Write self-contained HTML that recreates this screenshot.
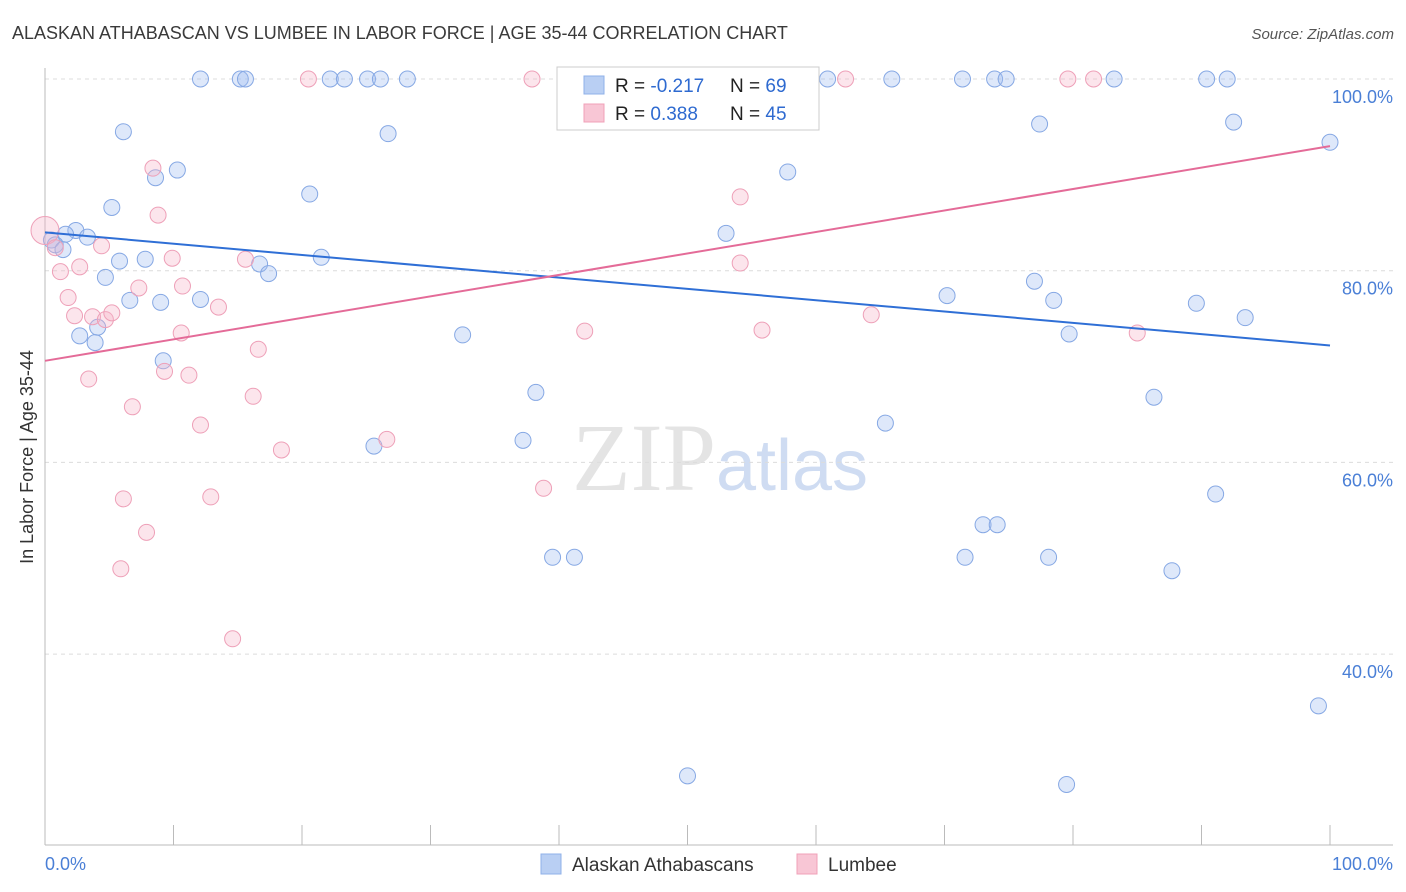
<!DOCTYPE html>
<html><head><meta charset="utf-8">
<style>
body{margin:0;background:#fff;font-family:"Liberation Sans",sans-serif;}
svg{display:block}
</style></head>
<body>
<svg id="chart" width="1406" height="892" xmlns="http://www.w3.org/2000/svg">
<text x="12" y="39" font-size="18" fill="#3a3a3a">ALASKAN ATHABASCAN VS LUMBEE IN LABOR FORCE | AGE 35-44 CORRELATION CHART</text>
<text x="1394" y="39" font-size="15" fill="#555" font-style="italic" text-anchor="end">Source: ZipAtlas.com</text>
<text x="720" y="490" font-size="96" text-anchor="middle" font-family="Liberation Serif" fill="#e4e4e4">ZIP<tspan fill="#cfdcf2" font-family="Liberation Sans" font-size="72">atlas</tspan></text>
<g id="grid"></g>
<g id="axes"></g>
<g id="marks"></g>
<g id="legend">
 <rect x="557" y="67" width="262" height="63" fill="#fff" stroke="#ccc"/>
 <rect x="584" y="76" width="20" height="18" fill="#b9cff3" stroke="#8fb0e8"/>
 <rect x="584" y="104" width="20" height="18" fill="#f8c6d5" stroke="#f0a0b8"/>
 <text x="615" y="92" font-size="19" fill="#222">R = <tspan fill="#2e6ad0">-0.217</tspan></text>
 <text x="730" y="92" font-size="19" fill="#222">N = <tspan fill="#2e6ad0">69</tspan></text>
 <text x="615" y="120" font-size="19" fill="#222">R = <tspan fill="#2e6ad0"> 0.388</tspan></text>
 <text x="730" y="120" font-size="19" fill="#222">N = <tspan fill="#2e6ad0">45</tspan></text>
</g>
<g>
 <rect x="541" y="854" width="20" height="20" fill="#b9cff3" stroke="#8fb0e8"/>
 <text x="572" y="871" font-size="19" fill="#333">Alaskan Athabascans</text>
 <rect x="797" y="854" width="20" height="20" fill="#f8c6d5" stroke="#f0a0b8"/>
 <text x="828" y="871" font-size="19" fill="#333">Lumbee</text>
</g>
<text transform="translate(33,457) rotate(-90)" font-size="18" fill="#333" text-anchor="middle">In Labor Force | Age 35-44</text>
<text x="45" y="870" font-size="18" fill="#4a7fd6">0.0%</text>
<text x="1393" y="870" font-size="18" fill="#4a7fd6" text-anchor="end">100.0%</text>
</svg>
<script>
const blueX=[12.1,15.2,15.6,22.2,23.3,25.1,26.1,28.2,48.6,60.9,65.9,71.4,73.9,74.8,83.2,90.4,92.0,6.1,26.7,77.4,92.5,100,8.6,10.3,20.6,57.8,5.2,2.4,1.6,3.3,0.5,0.8,1.4,53.0,7.8,5.8,21.5,16.7,17.4,4.7,6.6,9.0,12.1,70.2,77.0,78.5,89.6,93.4,4.1,2.7,3.9,32.5,79.7,9.2,38.2,86.3,65.4,37.2,25.6,91.1,73.0,74.1,39.5,41.2,71.6,78.1,87.7,99.1,50.0,79.5];
const blueY=[100,100,100,100,100,100,100,100,100,100,100,100,100,100,100,100,100,94.5,94.3,95.3,95.5,93.4,89.7,90.5,88.0,90.3,86.6,84.2,83.8,83.5,83.2,82.7,82.2,83.9,81.2,81.0,81.4,80.7,79.7,79.3,76.9,76.7,77.0,77.4,78.9,76.9,76.6,75.1,74.1,73.2,72.5,73.3,73.4,70.6,67.3,66.8,64.1,62.3,61.7,56.7,53.5,53.5,50.1,50.1,50.1,50.1,48.7,34.6,27.3,26.4];
const pinkX=[0,0.8,1.2,2.7,4.4,1.8,2.3,3.7,4.7,5.2,7.3,8.4,8.8,9.9,10.7,10.6,13.5,15.6,16.6,3.4,6.8,9.3,11.2,12.1,16.2,18.4,6.1,12.9,7.9,5.9,14.6,20.5,37.9,62.3,79.6,81.6,54.1,54.1,42.0,55.8,64.3,85.0,26.6,38.8];
const pinkY=[84.2,82.4,79.9,80.4,82.6,77.2,75.3,75.2,74.9,75.6,78.2,90.7,85.8,81.3,78.4,73.5,76.2,81.2,71.8,68.7,65.8,69.5,69.1,63.9,66.9,61.3,56.2,56.4,52.7,48.9,41.6,100,100,100,100,100,87.7,80.8,73.7,73.8,75.4,73.5,62.4,57.3];
const blueTrend=[84.0,72.2];
const pinkTrend=[70.6,93.0];
const yTicks=[100,80,60,40];
const yTickLabels=["100.0%","80.0%","60.0%","40.0%"];
const xTicks=[0,10,20,30,40,50,60,70,80,90,100];

const NS="http://www.w3.org/2000/svg";
const X=v=>45+v*12.85;
const Y=v=>79+(100-v)*9.585;
function mk(tag,attrs,parent){const e=document.createElementNS(NS,tag);for(const k in attrs)e.setAttribute(k,attrs[k]);parent.appendChild(e);return e;}
const grid=document.getElementById('grid'),axes=document.getElementById('axes'),marks=document.getElementById('marks');
yTicks.forEach((t,i)=>{
 const l=mk('line',{x1:45,x2:1393,y1:Y(t),y2:Y(t),stroke:'#dcdcdc','stroke-dasharray':'4,4'},grid);
 
 
 const tx=mk('text',{x:1393,y:Y(t)+24,'font-size':18,fill:'#4a7fd6','text-anchor':'end'},grid);
 tx.textContent=yTickLabels[i];
 
 
});
const ya=mk('line',{x1:45,x2:45,y1:68,y2:845,stroke:'#bbb'},axes);


const xa=mk('line',{x1:45,x2:1393,y1:845,y2:845,stroke:'#bbb'},axes);


xTicks.forEach(t=>{
 const l=mk('line',{x1:X(t),x2:X(t),y1:825,y2:845,stroke:'#bbb'},axes);
 
 
});
blueX.forEach((v,i)=>{
 const c=mk('circle',{cx:X(v),cy:Y(blueY[i]),r:8,fill:'rgba(160,190,240,0.35)',stroke:'#86a8e4','stroke-width':1},marks);
 
 
});
pinkX.forEach((v,i)=>{
 const c=mk('circle',{cx:X(v),cy:Y(pinkY[i]),r:i===0?14:8,fill:'rgba(246,180,200,0.35)',stroke:'#eea0b8','stroke-width':1},marks);
 
 
});
const bl=mk('line',{x1:X(0),y1:Y(blueTrend[0]),x2:X(100),y2:Y(blueTrend[1]),stroke:'#2f6fd6','stroke-width':2},marks);


const pl=mk('line',{x1:X(0),y1:Y(pinkTrend[0]),x2:X(100),y2:Y(pinkTrend[1]),stroke:'#e46b98','stroke-width':2},marks);


</script>
</body></html>
